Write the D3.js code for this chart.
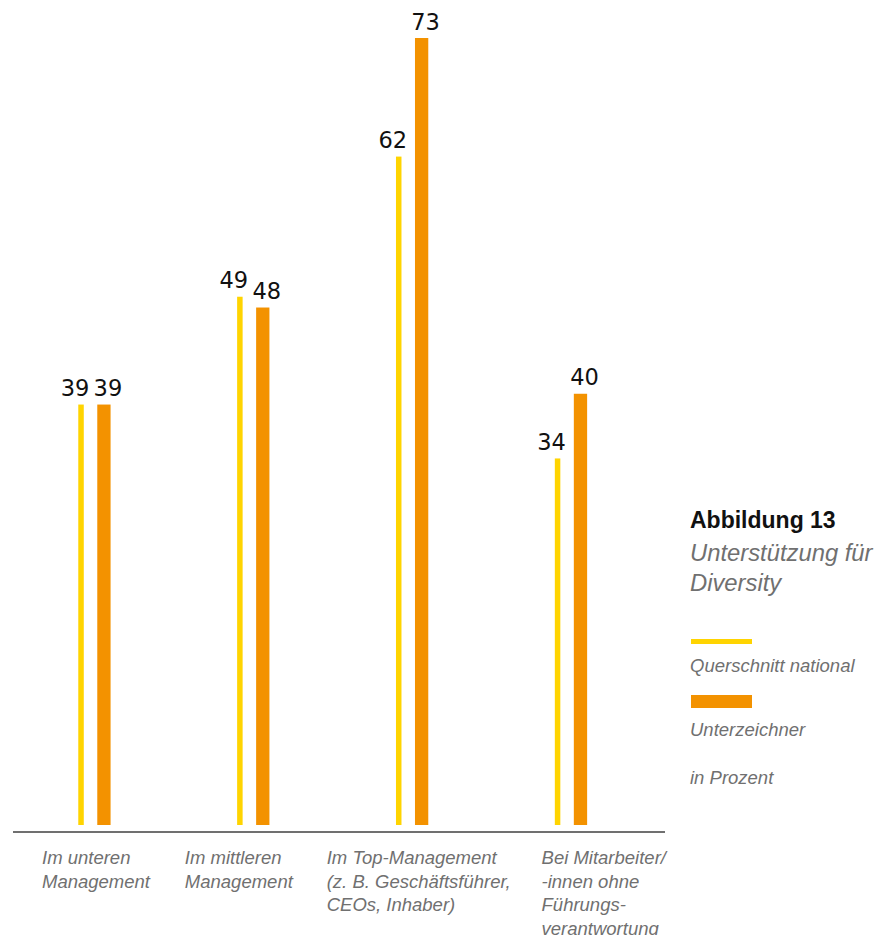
<!DOCTYPE html>
<html lang="de">
<head>
<meta charset="utf-8">
<title>Unterstützung für Diversity</title>
<script src="https://cdn.jsdelivr.net/npm/d3@7"></script>
<style>
  html, body { margin: 0; padding: 0; background: #ffffff; }
  svg { display: block; }
</style>
</head>
<body>
<svg id="chart" width="891" height="935"></svg>
<script>
// Categories (x-axis label lines)
const categories = [
  ["Im unteren", "Management"],
  ["Im mittleren", "Management"],
  ["Im Top-Management", "(z. B. Geschäftsführer,", "CEOs, Inhaber)"],
  ["Bei Mitarbeiter/", "-innen ohne", "Führungs-", "verantwortung"]
];
const categoryKeys = ["unten", "mitte", "top", "ohne"];

// Series values in percent
const querschnittNational = [39, 49, 62, 34];
const unterzeichner = [39, 48, 73, 40];

const seriesNames = ["Querschnitt national", "Unterzeichner"];
const titleText = "Abbildung 13";
const subtitleLines = ["Unterstützung für", "Diversity"];
const unitText = "in Prozent";

// ---- layout ----
const baseY = 825;
const topY = 38;
const colors = { national: "#ffd400", signer: "#f39200", axis: "#707070", text: "#707070" };
const tickLabelDx = [27, 11, -6, 50];

const svg = d3.select("#chart");

const x = d3.scaleBand()
  .domain(categoryKeys)
  .range([15, 650.4])
  .paddingInner(0)
  .paddingOuter(0);

const y = d3.scaleLinear()
  .domain([0, d3.max(unterzeichner)])
  .range([baseY, topY]);

// inner positions of the two bars inside a group
const yellowW = 5.5, orangeW = 13.3, innerGap = 13.5;
const groupW = yellowW + innerGap + orangeW;

const rows = categoryKeys.map((k, i) => ({
  key: k,
  national: querschnittNational[i],
  signer: unterzeichner[i],
  cx: x(k) + x.bandwidth() / 2
}));

// national bars
svg.append("g").selectAll("rect")
  .data(rows).join("rect")
  .attr("x", d => d.cx - groupW / 2)
  .attr("y", d => y(d.national))
  .attr("width", yellowW)
  .attr("height", d => baseY - y(d.national))
  .attr("fill", colors.national);

// signer bars
svg.append("g").selectAll("rect")
  .data(rows).join("rect")
  .attr("x", d => d.cx - groupW / 2 + yellowW + innerGap)
  .attr("y", d => y(d.signer))
  .attr("width", orangeW)
  .attr("height", d => baseY - y(d.signer))
  .attr("fill", colors.signer);

// value labels
const valueFont = "'DejaVu Sans', sans-serif";
svg.append("g").selectAll("text")
  .data(rows).join("text")
  .attr("x", d => d.cx - groupW / 2 + yellowW / 2 - 6)
  .attr("y", d => y(d.national) - 8.5)
  .attr("text-anchor", "middle")
  .attr("font-family", valueFont)
  .attr("font-size", 22.5)
  .attr("fill", "#111")
  .text(d => d.national);

svg.append("g").selectAll("text")
  .data(rows).join("text")
  .attr("x", d => d.cx - groupW / 2 + yellowW + innerGap + orangeW / 2 + 4)
  .attr("y", d => y(d.signer) - 8.5)
  .attr("text-anchor", "middle")
  .attr("font-family", valueFont)
  .attr("font-size", 22.5)
  .attr("fill", "#111")
  .text(d => d.signer);

// baseline
svg.append("line")
  .attr("x1", 13).attr("x2", 665)
  .attr("y1", 832).attr("y2", 832)
  .attr("stroke", colors.axis)
  .attr("stroke-width", 2);

// category labels
const labelFont = "'Liberation Sans', Arial, sans-serif";
const catG = svg.append("g")
  .attr("font-family", labelFont)
  .attr("font-style", "italic")
  .attr("font-size", 18.5)
  .attr("fill", colors.text);

categoryKeys.forEach((k, i) => {
  const t = catG.append("text")
    .attr("x", x(k) + tickLabelDx[i])
    .attr("y", 864);
  categories[i].forEach((line, j) => {
    t.append("tspan")
      .attr("x", x(k) + tickLabelDx[i])
      .attr("y", 864 + j * 23.5)
      .text(line);
  });
});

// legend block
const lg = svg.append("g").attr("font-family", labelFont);
lg.append("text")
  .attr("x", 690).attr("y", 528)
  .attr("font-weight", "bold")
  .attr("font-size", 23)
  .attr("fill", "#111")
  .text(titleText);

subtitleLines.forEach((s, i) => {
  lg.append("text")
    .attr("x", 690).attr("y", 561 + i * 30)
    .attr("font-style", "italic")
    .attr("font-size", 23.8)
    .attr("fill", colors.text)
    .text(s);
});

lg.append("rect")
  .attr("x", 691).attr("y", 639)
  .attr("width", 61).attr("height", 5)
  .attr("fill", colors.national);
lg.append("text")
  .attr("x", 690).attr("y", 671.5)
  .attr("font-style", "italic")
  .attr("font-size", 18.5)
  .attr("fill", colors.text)
  .text(seriesNames[0]);

lg.append("rect")
  .attr("x", 691).attr("y", 695)
  .attr("width", 61).attr("height", 13)
  .attr("fill", colors.signer);
lg.append("text")
  .attr("x", 690).attr("y", 736)
  .attr("font-style", "italic")
  .attr("font-size", 18.5)
  .attr("fill", colors.text)
  .text(seriesNames[1]);

lg.append("text")
  .attr("x", 690).attr("y", 784)
  .attr("font-style", "italic")
  .attr("font-size", 18.5)
  .attr("fill", colors.text)
  .text(unitText);
</script>
</body>
</html>
